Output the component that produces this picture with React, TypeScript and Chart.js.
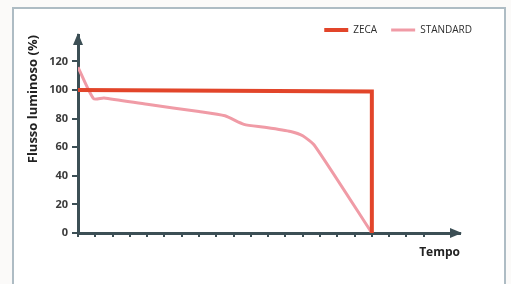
import React, { useEffect, useRef } from "react";
import { Chart, registerables } from "chart.js";

Chart.register(...registerables);

// Data (x in time-step units, y in % luminous flux)
const seriesNames = ["ZECA", "STANDARD"];
const zecaX = [0, 17, 17];
const zecaY = [100, 99, 0];
const standardX = [0, 0.9, 1.5, 4, 7, 8.5, 9.6, 10.8, 12.3, 13, 13.7, 17];
const standardY = [116, 94, 94.5, 90, 85, 82, 76, 74, 71, 68, 61, 0];
const yTicks = [0, 20, 40, 60, 80, 100, 120];
const xTickCount = 20;
const yAxisTitle = "Flusso luminoso (%)";
const xAxisTitle = "Tempo";

const AXIS_COLOR = "#3c4f55";

const arrowPlugin = {
  id: "axisArrows",
  afterDraw(chart: any) {
    const { ctx, chartArea } = chart;
    ctx.save();
    ctx.fillStyle = AXIS_COLOR;
    const x0 = chartArea.left;
    const yTop = chartArea.top;
    ctx.beginPath();
    ctx.moveTo(x0, yTop - 2);
    ctx.lineTo(x0 - 5, yTop + 10);
    ctx.lineTo(x0 + 5, yTop + 10);
    ctx.closePath();
    ctx.fill();
    const y0 = chartArea.bottom;
    const xR = chartArea.right;
    ctx.beginPath();
    ctx.moveTo(xR + 2, y0);
    ctx.lineTo(xR - 10, y0 - 5);
    ctx.lineTo(xR - 10, y0 + 5);
    ctx.closePath();
    ctx.fill();
    ctx.restore();
  },
};

export default function App() {
  const ref = useRef<HTMLCanvasElement>(null);
  useEffect(() => {
    if (!ref.current) return;
    const chart = new Chart(ref.current, {
      type: "line",
      data: {
        datasets: [
          {
            label: seriesNames[0],
            data: zecaX.map((x, i) => ({ x, y: zecaY[i] })),
            borderColor: "#e2452a",
            backgroundColor: "#e2452a",
            borderWidth: 4,
            pointRadius: 0,
            tension: 0,
          },
          {
            label: seriesNames[1],
            data: standardX.map((x, i) => ({ x, y: standardY[i] })),
            borderColor: "#f09ba6",
            backgroundColor: "#f09ba6",
            borderWidth: 3,
            pointRadius: 0,
            tension: 0.2,
          },
        ],
      },
      options: {
        animation: false,
        responsive: false,
        events: [],
        layout: { padding: { top: 11, left: 20, right: 25, bottom: 20 } },
        plugins: {
          tooltip: { enabled: false },
          legend: {
            position: "top",
            align: "end",
            maxHeight: 24,
            labels: {
              usePointStyle: true,
              pointStyle: "line",
              pointStyleWidth: 24,
              padding: 14,
              color: "#2e2e2e",
              font: { family: "Open Sans", size: 10 },
            },
          },
        },
        scales: {
          x: {
            type: "linear",
            min: 0,
            max: 22.1,
            afterBuildTicks: (scale: any) => {
              scale.ticks = Array.from({ length: xTickCount + 1 }, (_, i) => ({ value: i }));
            },
            afterFit: (scale: any) => {
              scale.height = 31;
            },
            ticks: { display: false, stepSize: 1 },
            grid: {
              display: true,
              drawOnChartArea: false,
              drawTicks: true,
              tickLength: 4,
              color: AXIS_COLOR,
              lineWidth: 2,
            },
            border: { display: true, color: AXIS_COLOR, width: 3 },
            title: {
              display: true,
              text: xAxisTitle,
              align: "end",
              color: "#222",
              font: { family: "Open Sans", size: 12, weight: "bold" },
              padding: { top: 0, bottom: 4 },
            },
          },
          y: {
            type: "linear",
            position: "left",
            min: 0,
            max: 138.5,
            afterBuildTicks: (scale: any) => {
              scale.ticks = yTicks.map((v) => ({ value: v }));
            },
            afterFit: (scale: any) => {
              scale.width = 58;
            },
            ticks: {
              stepSize: 20,
              padding: 4,
              color: "#3a3a3a",
              font: { family: "Open Sans", size: 11, weight: "bold" },
            },
            grid: {
              display: true,
              drawOnChartArea: false,
              drawTicks: true,
              tickLength: 6,
              color: AXIS_COLOR,
              lineWidth: 2,
            },
            border: { display: true, color: AXIS_COLOR, width: 3 },
            title: {
              display: true,
              text: yAxisTitle,
              align: "end",
              color: "#222",
              font: { family: "Open Sans", size: 13, weight: "bold" },
              padding: { top: 5, bottom: 0 },
            },
          },
          y2: {
            type: "linear",
            position: "right",
            display: true,
            afterFit: (scale: any) => {
              scale.width = 26;
            },
            ticks: { display: false },
            grid: { display: false },
            border: { display: false },
          },
        },
      },
      plugins: [arrowPlugin],
    } as any);
    return () => chart.destroy();
  }, []);

  return (
    <div
      style={{
        position: "fixed",
        left: 0,
        top: 0,
        width: 511,
        height: 284,
        background: "#fbfaf9",
        overflow: "hidden",
      }}
    >
      <div
        style={{
          position: "absolute",
          left: 12,
          top: 7,
          width: 490,
          height: 290,
          border: "2px solid #aebcc4",
          background: "#ffffff",
        }}
      />
      <canvas
        ref={ref}
        width={511}
        height={284}
        style={{ position: "absolute", left: 0, top: 0, width: 511, height: 284 }}
      />
    </div>
  );
}
